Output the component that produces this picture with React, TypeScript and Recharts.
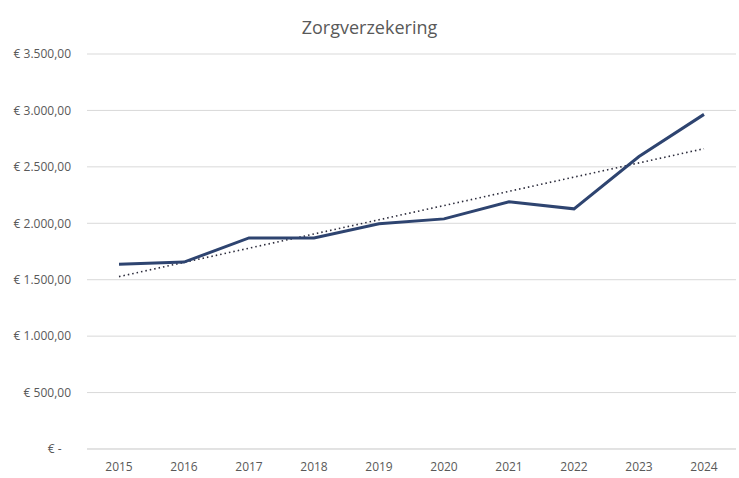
import React from 'react';
import { LineChart, Line, XAxis, YAxis, CartesianGrid } from 'recharts';

const years = ['2015', '2016', '2017', '2018', '2019', '2020', '2021', '2022', '2023', '2024'];
const premie = [1638, 1656, 1870, 1870, 1995, 2039, 2190, 2128, 2591, 2965];
const yTicks = [0, 500, 1000, 1500, 2000, 2500, 3000, 3500];

// lineaire trendlijn (kleinste kwadraten), zoals Excel die tekent
const n = premie.length;
const meanX = (n - 1) / 2;
const meanY = premie.reduce((s, v) => s + v, 0) / n;
const slope =
  premie.reduce((s, v, i) => s + (i - meanX) * (v - meanY), 0) /
  premie.reduce((s, _, i) => s + (i - meanX) * (i - meanX), 0);
const intercept = meanY - slope * meanX;

const data = years.map((year, i) => ({
  year,
  premie: premie[i],
  trend: intercept + slope * i,
}));

const formatEuro = (v: number) => {
  if (v === 0) return '€ -\u00a0\u00a0\u00a0';
  return (
    '€ ' +
    v.toLocaleString('nl-NL', { minimumFractionDigits: 2, maximumFractionDigits: 2 })
  );
};

const font = 'Open Sans, Noto Sans, sans-serif';

const App: React.FC = () => {
  return (
    <div
      style={{
        position: 'absolute',
        left: 0,
        top: 0,
        width: 739,
        height: 478,
        background: '#fff',
        fontFamily: font,
      }}
    >
      <div
        style={{
          position: 'absolute',
          top: 15,
          width: 739,
          textAlign: 'center',
          fontSize: 18,
          color: '#595959',
        }}
      >
        Zorgverzekering
      </div>
      <LineChart
        width={739}
        height={478}
        data={data}
        margin={{ top: 54, right: 3, bottom: 0, left: 0 }}
      >
        <CartesianGrid stroke="#d9d9d9" vertical={false} />
        <XAxis
          dataKey="year"
          height={29}
          padding={{ left: 32, right: 32 }}
          axisLine={{ stroke: '#d9d9d9' }}
          tickLine={false}
          tick={{ fill: '#595959', fontSize: 12, fontFamily: font }}
          tickMargin={7}
        />
        <YAxis
          width={87}
          domain={[0, 3500]}
          ticks={yTicks}
          axisLine={false}
          tickLine={false}
          tickSize={0}
          tickMargin={16}
          tickFormatter={formatEuro}
          tick={{ fill: '#595959', fontSize: 12, fontFamily: font }}
        />
        <Line
          dataKey="trend"
          stroke="#2b2b3b"
          strokeWidth={1.6}
          strokeDasharray="1.5 3"
          dot={false}
          isAnimationActive={false}
        />
        <Line
          dataKey="premie"
          stroke="#2e4470"
          strokeWidth={3}
          dot={false}
          isAnimationActive={false}
        />
      </LineChart>
    </div>
  );
};

export default App;
